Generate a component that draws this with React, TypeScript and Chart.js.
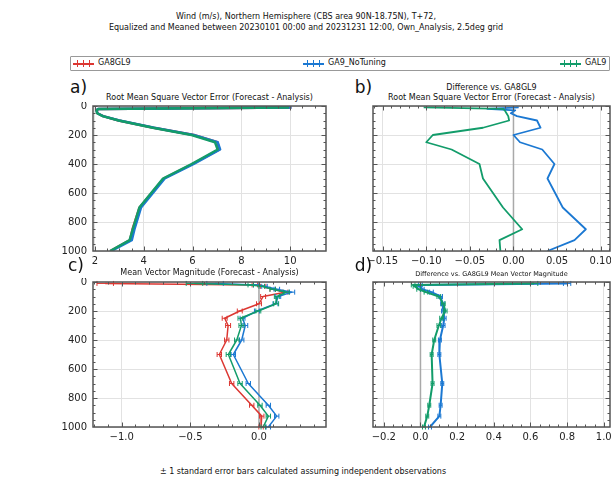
import React, { useEffect, useRef } from "react";
import { Chart, registerables } from "chart.js";
Chart.register(...registerables);

// ---------------- data ----------------
const levels = [10, 20, 30, 50, 70, 100, 150, 200, 250, 300, 400, 500, 700, 850, 925, 1000];
const seriesNames = ["GA8GL9", "GA9_NoTuning", "GAL9"];

// a) RMS vector error
const rmsGA8GL9 = [10.05, 2.15, 2.07, 2.1, 2.33, 2.97, 4.4, 6.05, 7.02, 7.1, 6.0, 4.82, 3.83, 3.54, 3.44, 2.63];
const rmsGA9NoTuning = [10.06, 2.12, 2.07, 2.1, 2.33, 3.0, 4.43, 6.05, 7.03, 7.13, 6.05, 4.86, 3.89, 3.62, 3.51, 2.67];
const rmsGAL9 = [9.95, 2.14, 2.06, 2.09, 2.32, 2.97, 4.37, 5.96, 6.92, 7.03, 5.96, 4.79, 3.82, 3.55, 3.42, 2.62];

// b) RMS difference vs GA8GL9
const rmsDiffGA9NoTuning = [0.006, -0.03, 0.002, -0.003, 0.004, 0.027, 0.031, 0.0, 0.0075, 0.033, 0.047, 0.039, 0.0565, 0.083, 0.07, 0.039];
const rmsDiffGAL9 = [-0.103, -0.012, -0.01, -0.008, -0.006, -0.005, -0.035, -0.0925, -0.1, -0.071, -0.039, -0.035, -0.012, 0.01, -0.016, -0.015];

// c) mean vector magnitude (forecast - analysis)
const mvmGA8GL9 = [-1.12, -0.03, 0.03, 0.1, 0.19, 0.03, 0.0, -0.14, -0.25, -0.225, -0.235, -0.289, -0.199, -0.053, 0.02, 0.015];
const mvmGA9NoTuning = [-0.32, -0.02, 0.04, 0.13, 0.24, 0.14, 0.12, -0.015, -0.12, -0.1, -0.126, -0.187, -0.078, 0.068, 0.129, 0.068];
const mvmGAL9 = [-0.47, -0.06, 0.02, 0.1, 0.2, 0.13, 0.125, -0.005, -0.135, -0.128, -0.162, -0.223, -0.138, 0.007, 0.068, 0.031];
const mvmErrGA8GL9 = [0.06, 0.02, 0.02, 0.02, 0.02, 0.018, 0.018, 0.018, 0.018, 0.018, 0.016, 0.016, 0.016, 0.016, 0.016, 0.016];
const mvmErrGA9NoTuning = [0.06, 0.02, 0.02, 0.02, 0.02, 0.018, 0.018, 0.018, 0.018, 0.018, 0.016, 0.016, 0.016, 0.016, 0.016, 0.016];
const mvmErrGAL9 = [0.06, 0.02, 0.02, 0.02, 0.02, 0.018, 0.018, 0.018, 0.018, 0.018, 0.016, 0.016, 0.016, 0.016, 0.016, 0.016];

// d) mean vector magnitude difference vs GA8GL9
const mvmDiffGA9NoTuning = [0.8, 0.0, -0.005, 0.01, 0.06, 0.11, 0.12, 0.125, 0.13, 0.124, 0.106, 0.103, 0.119, 0.11, 0.103, 0.052];
const mvmDiffGAL9 = [0.62, -0.04, -0.03, -0.01, 0.03, 0.1, 0.125, 0.135, 0.115, 0.1, 0.075, 0.061, 0.066, 0.048, 0.037, 0.019];
const mvmDiffErrGA9NoTuning = [0.02, 0.01, 0.01, 0.01, 0.01, 0.01, 0.01, 0.01, 0.01, 0.01, 0.008, 0.008, 0.008, 0.008, 0.008, 0.008];
const mvmDiffErrGAL9 = [0.02, 0.01, 0.01, 0.01, 0.01, 0.01, 0.01, 0.01, 0.01, 0.01, 0.008, 0.008, 0.008, 0.008, 0.008, 0.008];

// ticks
const pressureTicks = [0, 200, 400, 600, 800, 1000];
const ticksA = [2, 4, 6, 8, 10];
const ticksB = [-0.15, -0.1, -0.05, 0, 0.05, 0.1];
const ticksC = [-1.0, -0.5, 0.0];
const ticksD = [-0.2, 0, 0.2, 0.4, 0.6, 0.8, 1.0];

// ---------------- styles ----------------
const FONT = "'DejaVu Sans', 'Liberation Sans', sans-serif";
const RED = "#dc3732";
const BLUE = "#1b78d2";
const GREEN = "#129c6a";
const COLORS = [RED, BLUE, GREEN];
const FRAME = "#555555";

function fmt(v: number, d: number) {
  const s = Math.abs(v) < 1e-9 ? (0).toFixed(d) : v.toFixed(d);
  return s.replace("-", "\u2212");
}

const mplPlugin = {
  id: "mpl",
  beforeDatasetsDraw(chart: any, _args: any, opts: any) {
    if (!opts.zero) return;
    const { ctx, chartArea: a, scales } = chart;
    const px = scales.x.getPixelForValue(0);
    ctx.save();
    ctx.strokeStyle = "#a9a9a9";
    ctx.lineWidth = 1.5;
    ctx.beginPath();
    ctx.moveTo(px, a.top);
    ctx.lineTo(px, a.bottom);
    ctx.stroke();
    ctx.restore();
  },
  afterDatasetDraw(chart: any, args: any) {
    const ds = chart.data.datasets[args.index];
    const errs = ds.errs as number[] | undefined;
    if (!errs) return;
    const { ctx, scales } = chart;
    ctx.save();
    ctx.strokeStyle = ds.borderColor;
    ctx.lineWidth = 1;
    ds.data.forEach((pt: any, i: number) => {
      const e = errs[i];
      const x1 = scales.x.getPixelForValue(pt.x - e);
      const x2 = scales.x.getPixelForValue(pt.x + e);
      const y = scales.y.getPixelForValue(pt.y);
      ctx.beginPath();
      ctx.moveTo(x1, y);
      ctx.lineTo(x2, y);
      ctx.moveTo(x1, y - 2.5);
      ctx.lineTo(x1, y + 2.5);
      ctx.moveTo(x2, y - 2.5);
      ctx.lineTo(x2, y + 2.5);
      ctx.stroke();
    });
    ctx.restore();
  },
  afterDraw(chart: any, _args: any, opts: any) {
    const { ctx, chartArea: a, scales } = chart;
    const xs = scales.x;
    const ys = scales.y;
    ctx.save();
    ctx.strokeStyle = FRAME;
    ctx.lineWidth = 1;
    const tick = (v: number, horizontalAxis: boolean, len: number) => {
      if (horizontalAxis) {
        const p = Math.round(xs.getPixelForValue(v)) + 0.5;
        if (p < a.left || p > a.right) return;
        ctx.beginPath();
        ctx.moveTo(p, a.bottom);
        ctx.lineTo(p, a.bottom - len);
        ctx.moveTo(p, a.top);
        ctx.lineTo(p, a.top + len);
        ctx.stroke();
      } else {
        const p = Math.round(ys.getPixelForValue(v)) + 0.5;
        if (p < a.top || p > a.bottom) return;
        ctx.beginPath();
        ctx.moveTo(a.left, p);
        ctx.lineTo(a.left + len, p);
        ctx.moveTo(a.right, p);
        ctx.lineTo(a.right - len, p);
        ctx.stroke();
      }
    };
    const xMin = xs.min, xMax = xs.max;
    const sx = opts.xMinor as number;
    for (let k = Math.ceil(xMin / sx - 1e-6); k * sx <= xMax + 1e-9; k++) tick(k * sx, true, 2.5);
    (opts.xMajor as number[]).forEach((v) => tick(v, true, 4.5));
    const sy = opts.yMinor as number;
    for (let k = 0; k * sy <= 1000 + 1e-9; k++) tick(k * sy, false, 2.5);
    (opts.yMajor as number[]).forEach((v) => tick(v, false, 4.5));
    ctx.lineWidth = 1.5;
    ctx.strokeRect(a.left, a.top, a.right - a.left, a.bottom - a.top);
    ctx.restore();
  },
};

type SeriesCfg = { values: number[]; color: string; width: number; errs?: number[]; order: number };
type PanelCfg = {
  L: number; T: number; R: number; B: number;
  xMin: number; xMax: number; xTicks: number[]; dec: number; xMinor: number;
  yLabels: boolean; zero: boolean; series: SeriesCfg[];
};

const YW = 40, PT = 4, PR = 4, XH = 22;

function Panel({ cfg }: { cfg: PanelCfg }) {
  const ref = useRef<HTMLCanvasElement>(null);
  const w = cfg.R - cfg.L + YW + PR;
  const h = cfg.B - cfg.T + PT + XH;
  useEffect(() => {
    const chart = new Chart(ref.current as HTMLCanvasElement, {
      type: "scatter",
      data: {
        datasets: cfg.series.map((s) => ({
          data: levels.map((p, i) => ({ x: s.values[i], y: p })),
          showLine: true,
          borderColor: s.color,
          backgroundColor: s.color,
          borderWidth: s.width,
          pointRadius: 0,
          borderJoinStyle: "round",
          tension: 0,
          order: s.order,
          errs: s.errs,
        })) as any,
      },
      options: {
        animation: false,
        responsive: false,
        devicePixelRatio: 1,
        events: [],
        layout: { padding: { left: 0, top: PT, right: PR, bottom: 0 } },
        plugins: {
          legend: { display: false },
          tooltip: { enabled: false },
          mpl: { zero: cfg.zero, xMajor: cfg.xTicks, xMinor: cfg.xMinor, yMajor: pressureTicks, yMinor: 50 },
        } as any,
        scales: {
          x: {
            type: "linear",
            position: "bottom",
            min: cfg.xMin,
            max: cfg.xMax,
            afterBuildTicks: (s: any) => {
              s.ticks = cfg.xTicks.map((v) => ({ value: v }));
            },
            afterFit: (s: any) => {
              s.height = XH;
              s.paddingLeft = 0;
              s.paddingRight = 0;
            },
            ticks: {
              callback: (v: any) => fmt(Number(v), cfg.dec),
              font: { family: FONT, size: 10 },
              color: "#222",
              padding: 4,
              maxRotation: 0,
              autoSkip: false,
            },
            grid: { color: "#e2e2e2", lineWidth: 1, drawTicks: false },
            border: { display: false },
          },
          y: {
            type: "linear",
            reverse: true,
            min: 0,
            max: 1000,
            afterBuildTicks: (s: any) => {
              s.ticks = pressureTicks.map((v) => ({ value: v }));
            },
            afterFit: (s: any) => {
              s.width = YW;
              s.paddingTop = 0;
              s.paddingBottom = 0;
            },
            ticks: {
              display: cfg.yLabels,
              callback: (v: any) => String(v),
              font: { family: FONT, size: 10 },
              color: "#222",
              padding: 6,
              autoSkip: false,
            },
            grid: { color: "#e2e2e2", lineWidth: 1, drawTicks: false },
            border: { display: false },
          },
        },
      } as any,
      plugins: [mplPlugin as any],
    });
    return () => chart.destroy();
  }, []);
  return (
    <canvas
      ref={ref}
      width={w}
      height={h}
      style={{ position: "absolute", left: cfg.L - YW, top: cfg.T - PT, width: w, height: h }}
    />
  );
}

function Txt(props: { x: number; y: number; size: number; text: string; align?: "center" | "left"; rotate?: boolean; color?: string }) {
  const { x, y, size, text, align = "center", rotate = false, color = "#111" } = props;
  const tx = align === "center" ? "-50%" : "0";
  return (
    <div
      style={{
        position: "absolute",
        left: x,
        top: y,
        fontFamily: FONT,
        fontSize: size,
        lineHeight: 1,
        whiteSpace: "nowrap",
        color,
        transform: `translate(${tx}, -50%)${rotate ? " rotate(-90deg)" : ""}`,
        transformOrigin: rotate ? "0 50%" : undefined,
      }}
    >
      {text}
    </div>
  );
}

function LegendSample({ x, y, color }: { x: number; y: number; color: string }) {
  return (
    <div style={{ position: "absolute", left: x, top: y - 3, width: 21, height: 7 }}>
      <div style={{ position: "absolute", left: 0, top: 3, width: 21, height: 1.5, background: color }} />
      {[4, 10, 16].map((p) => (
        <div key={p} style={{ position: "absolute", left: p, top: 0, width: 1, height: 7, background: color }} />
      ))}
    </div>
  );
}

const panelA: PanelCfg = {
  L: 93, T: 106, R: 326, B: 251, xMin: 1.92, xMax: 11.47, xTicks: ticksA, dec: 0, xMinor: 0.5,
  yLabels: true, zero: false,
  series: [
    { values: rmsGA8GL9, color: RED, width: 2.5, order: 3 },
    { values: rmsGA9NoTuning, color: BLUE, width: 2.5, order: 2 },
    { values: rmsGAL9, color: GREEN, width: 2.5, order: 1 },
  ],
};
const panelB: PanelCfg = {
  L: 373, T: 106, R: 610, B: 251, xMin: -0.1611, xMax: 0.1107, xTicks: ticksB, dec: 2, xMinor: 0.01,
  yLabels: false, zero: true,
  series: [
    { values: rmsDiffGA9NoTuning, color: BLUE, width: 1.8, order: 2 },
    { values: rmsDiffGAL9, color: GREEN, width: 1.8, order: 1 },
  ],
};
const panelC: PanelCfg = {
  L: 93, T: 282, R: 326, B: 427, xMin: -1.209, xMax: 0.488, xTicks: ticksC, dec: 1, xMinor: 0.1,
  yLabels: true, zero: true,
  series: [
    { values: mvmGA8GL9, color: RED, width: 1.5, errs: mvmErrGA8GL9, order: 3 },
    { values: mvmGA9NoTuning, color: BLUE, width: 1.5, errs: mvmErrGA9NoTuning, order: 2 },
    { values: mvmGAL9, color: GREEN, width: 1.5, errs: mvmErrGAL9, order: 1 },
  ],
};
const panelD: PanelCfg = {
  L: 373, T: 282, R: 610, B: 427, xMin: -0.259, xMax: 1.034, xTicks: ticksD, dec: 1, xMinor: 0.05,
  yLabels: false, zero: true,
  series: [
    { values: mvmDiffGA9NoTuning, color: BLUE, width: 2, errs: mvmDiffErrGA9NoTuning, order: 2 },
    { values: mvmDiffGAL9, color: GREEN, width: 2, errs: mvmDiffErrGAL9, order: 1 },
  ],
};

export default function App() {
  return (
    <div
      style={{
        position: "fixed",
        left: 0,
        top: 0,
        width: 611,
        height: 478,
        overflow: "hidden",
        background: "#fff",
      }}
    >
      <Txt x={306} y={17} size={8} text="Wind (m/s), Northern Hemisphere (CBS area 90N-18.75N), T+72," />
      <Txt x={306} y={28} size={8} text="Equalized and Meaned between 20230101 00:00 and 20231231 12:00, Own_Analysis, 2.5deg grid" />

      <div
        style={{
          position: "absolute",
          left: 70,
          top: 56,
          width: 538,
          height: 13,
          border: "1px solid #999",
          borderRadius: 1,
        }}
      />
      <LegendSample x={73} y={63} color={RED} />
      <Txt x={98} y={63} size={8} text={seriesNames[0]} align="left" />
      <LegendSample x={303} y={63} color={BLUE} />
      <Txt x={328} y={63} size={8} text={seriesNames[1]} align="left" />
      <LegendSample x={560} y={63} color={GREEN} />
      <Txt x={585} y={63} size={8} text={seriesNames[2]} align="left" />

      <Panel cfg={panelA} />
      <Panel cfg={panelB} />
      <Panel cfg={panelC} />
      <Panel cfg={panelD} />

      <Txt x={78.5} y={87} size={17} text="a)" />
      <Txt x={363.5} y={87} size={17} text="b)" />
      <Txt x={76} y={265} size={17} text="c)" />
      <Txt x={363.5} y={265} size={17} text="d)" />

      <Txt x={209.5} y={97.5} size={8} text="Root Mean Square Vector Error (Forecast - Analysis)" />
      <Txt x={491.5} y={88.3} size={8} text="Difference vs. GA8GL9" />
      <Txt x={491.5} y={97.7} size={8} text="Root Mean Square Vector Error (Forecast - Analysis)" />
      <Txt x={209.5} y={273} size={8} text="Mean Vector Magnitude (Forecast - Analysis)" />
      <Txt x={491.5} y={274} size={6.5} text="Difference vs. GA8GL9 Mean Vector Magnitude" />

      <Txt x={16} y={268} size={8} text="Pressure (hPa)" rotate />
      <Txt x={303} y={472} size={8} text={"\u00b1 1 standard error bars calculated assuming independent observations"} />
    </div>
  );
}
